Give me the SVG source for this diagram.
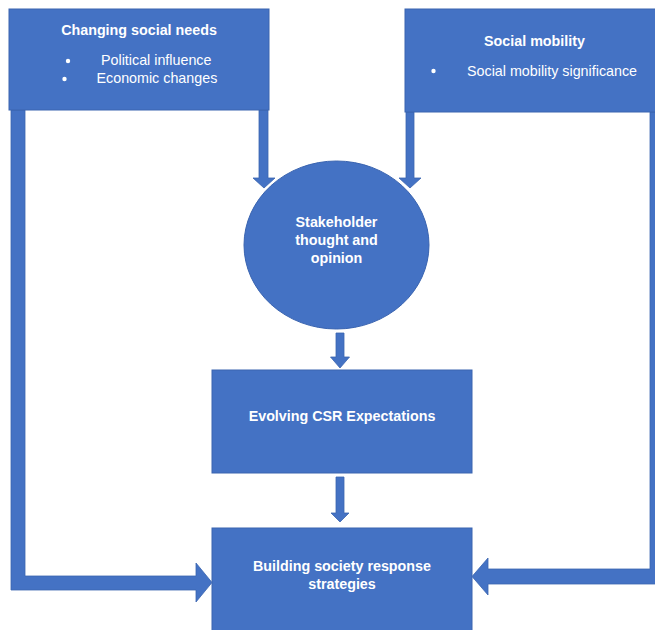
<svg xmlns="http://www.w3.org/2000/svg" width="655" height="630" viewBox="0 0 655 630">
  <style>
    .shape { fill: #4472C4; stroke: #3A64B0; stroke-width: 1; }
    .conn { fill: #4472C4; stroke: #3A64B0; stroke-width: 0.8; stroke-linejoin: miter; }
    text { font-family: "Liberation Sans", Arial, sans-serif; font-size: 14.3px; fill: #FFFFFF; }
    .b { font-weight: bold; }
    .c { text-anchor: middle; }
  </style>
  <rect width="655" height="630" fill="#FFFFFF"/>

  <!-- block arrows linking the stages -->
  <g id="connectors">
    <!-- social needs, down the left side and into the response box -->
    <path class="conn" d="M11,110 H25 V576 H196 V563 L212,582.5 L196,602 V590 H11 Z"/>
    <!-- social mobility, down the right side and into the response box -->
    <path class="conn" d="M650,112 H665 V584 H488 V595 L472,576.5 L488,558 V569 H650 Z"/>
    <!-- social needs into stakeholder opinion -->
    <path class="conn" d="M259,110 H268 V178 H275 L264,188 L253,178 H259 Z"/>
    <!-- social mobility into stakeholder opinion -->
    <path class="conn" d="M406,112 H414 V178 H421 L410,188 L399,178 H406 Z"/>
    <!-- stakeholder opinion into CSR expectations -->
    <path class="conn" d="M336,333 H344 V357 H349.5 L340,368 L330.5,357 H336 Z"/>
    <!-- CSR expectations into response strategies -->
    <path class="conn" d="M336,477 H344 V513 H349 L340,522 L331,513 H336 Z"/>
  </g>

  <g id="social-needs">
    <rect class="shape" x="9" y="9" width="260" height="101"/>
    <text class="b c" x="139" y="35">Changing social needs</text>
    <circle cx="68" cy="61" r="2.2" fill="#FFFFFF"/>
    <text x="101" y="64.5">Political influence</text>
    <circle cx="64.5" cy="79" r="2.2" fill="#FFFFFF"/>
    <text x="96.5" y="83">Economic changes</text>
  </g>

  <g id="social-mobility">
    <rect class="shape" x="405" y="9" width="260" height="103"/>
    <text class="b c" x="534.5" y="46">Social mobility</text>
    <circle cx="433.5" cy="71" r="2.2" fill="#FFFFFF"/>
    <text x="467" y="75.5">Social mobility significance</text>
  </g>

  <g id="stakeholder-opinion">
    <ellipse class="shape" cx="336.5" cy="245" rx="92.5" ry="84"/>
    <text class="b c" x="336.5" y="227">Stakeholder</text>
    <text class="b c" x="336.5" y="245">thought and</text>
    <text class="b c" x="336.5" y="263">opinion</text>
  </g>

  <g id="csr-expectations">
    <rect class="shape" x="212" y="370" width="260" height="103"/>
    <text class="b c" x="342" y="421">Evolving CSR Expectations</text>
  </g>

  <g id="response-strategies">
    <rect class="shape" x="212" y="528" width="260" height="112"/>
    <text class="b c" x="342" y="570.5">Building society response</text>
    <text class="b c" x="342" y="588.5">strategies</text>
  </g>
</svg>
